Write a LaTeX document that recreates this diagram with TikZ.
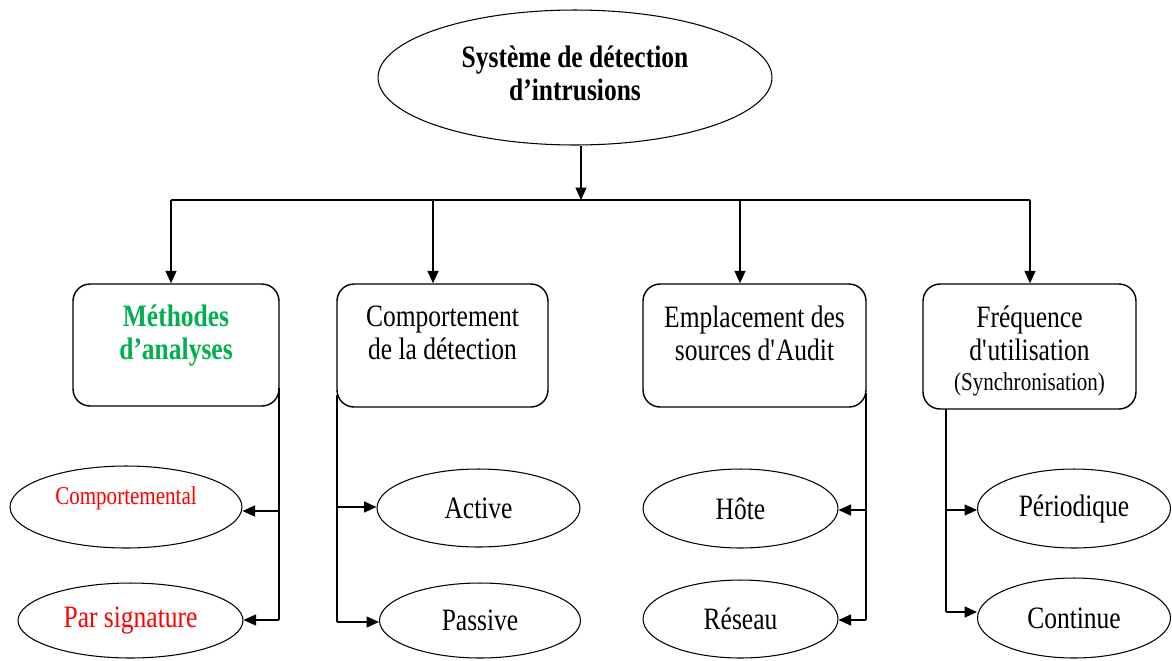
\documentclass[tikz,border=0pt]{standalone}
\usepackage{fontspec}
\setmainfont{Liberation Serif}[FakeStretch=0.82]
\usetikzlibrary{shapes.geometric,arrows.meta}
\definecolor{analysegreen}{RGB}{0,176,80}
\definecolor{labelred}{RGB}{255,0,0}
\begin{document}
\begin{tikzpicture}[x=0.02cm,y=-0.02cm,
  every node/.style={font=\fontsize{17.7}{18.8}\selectfont},
  line/.style={line width=0.8pt},
  arr/.style={line width=0.8pt,-{Triangle[length=0.25cm,width=0.22cm]}},
  oval/.style={draw,ellipse,line width=0.6pt,inner sep=0pt},
  catbox/.style={draw,rounded corners=0.34cm,line width=0.8pt,inner sep=0pt},
  lbl/.style={align=center,inner sep=0pt},
  small/.style={font=\fontsize{14.6}{17}\selectfont}]
\useasboundingbox (0,0) rectangle (1172,660);

% root
\node[oval,minimum width=7.88cm,minimum height=2.7cm] (ids) at (575,77.5) {};
\node[lbl,font=\bfseries\fontsize{17.7}{18.8}\selectfont] (idstext) at (575,73)
      {Système de détection\\d’intrusions};

% bus
\coordinate (hub) at (581,200);
\coordinate (b1) at (171,200);
\coordinate (b2) at (433,200);
\coordinate (b3) at (740,200);
\coordinate (b4) at (1030,200);

% category boxes
\node[catbox,minimum width=4.12cm,minimum height=2.44cm] (m1) at (176,345) {};
\node[catbox,minimum width=4.22cm,minimum height=2.46cm] (m2) at (442.5,345.5) {};
\node[catbox,minimum width=4.46cm,minimum height=2.46cm] (m3) at (754.5,345.5) {};
\node[catbox,minimum width=4.26cm,minimum height=2.5cm] (m4) at (1029.5,346.5) {};

\node[lbl,text=analysegreen,font=\bfseries\fontsize{17.7}{18.8}\selectfont] (t1) at (176,335.5) {Méthodes\\d’analyses};
\node[lbl] (t2) at (442.5,333) {Comportement\\de la détection};
\node[lbl] (t3) at (754.5,333) {Emplacement des\\sources d\textquotesingle Audit};
\node[lbl] (t4) at (1029.5,351) {Fréquence\\d\textquotesingle utilisation\\[-1.7pt]{\fontsize{14.6}{17}\selectfont(Synchronisation)}};

% leaf ellipses
\node[oval,minimum width=4.64cm,minimum height=1.64cm,text=labelred,small,
      text height=10pt,text depth=12.3pt] (e1) at (126,507) {Comportemental};
\node[oval,minimum width=4.5cm,minimum height=1.5cm,text=labelred] (e2) at (130.5,620.5) {Par signature};
\node[oval,minimum width=4.06cm,minimum height=1.56cm] (e3) at (478.5,508) {Active};
\node[oval,minimum width=4.02cm,minimum height=1.5cm] (e4) at (480,620.5) {Passive};
\node[oval,minimum width=3.9cm,minimum height=1.58cm] (e5) at (740.5,508.5) {Hôte};
\node[oval,minimum width=3.9cm,minimum height=1.56cm] (e6) at (740.5,619) {Réseau};
\node[oval,minimum width=3.86cm,minimum height=1.58cm] (e7) at (1074,508.5) {Périodique};
\node[oval,minimum width=3.86cm,minimum height=1.6cm] (e8) at (1074,618) {Continue};

% root to bus
\draw[arr] (ids.south -| hub) -- (hub);
\draw[line] (b1) -- (b4);
\draw[arr] (b1) -- (b1 |- m1.north);
\draw[arr] (b2) -- (b2 |- m2.north);
\draw[arr] (b3) -- (b3 |- m3.north);
\draw[arr] (b4) -- (b4 |- m4.north);

% branch coordinates
\coordinate (s1) at (279,388);
\coordinate (s1a) at (279,511);
\coordinate (s1b) at (279,620);
\coordinate (s2) at (337,395);
\coordinate (s2a) at (337,507);
\coordinate (s2b) at (337,622);
\coordinate (s3) at (866,393);
\coordinate (s3a) at (866,510);
\coordinate (s3b) at (866,620);
\coordinate (s4) at (946,409);
\coordinate (s4a) at (946,510);
\coordinate (s4b) at (946,612);

% branches
\draw[line] (s1) -- (s1b);
\draw[arr] (s1a) -- (s1a -| e1.east);
\draw[arr] (s1b) -- (s1b -| e2.east);
\draw[line] (s2) -- (s2b);
\draw[arr] (s2a) -- (s2a -| e3.west);
\draw[arr] (s2b) -- (s2b -| e4.west);
\draw[line] (s3) -- (s3b);
\draw[arr] (s3a) -- (s3a -| e5.east);
\draw[arr] (s3b) -- (s3b -| e6.east);
\draw[line] (s4) -- (s4b);
\draw[arr] (s4a) -- (s4a -| e7.west);
\draw[arr] (s4b) -- (s4b -| e8.west);
\end{tikzpicture}
\end{document}
